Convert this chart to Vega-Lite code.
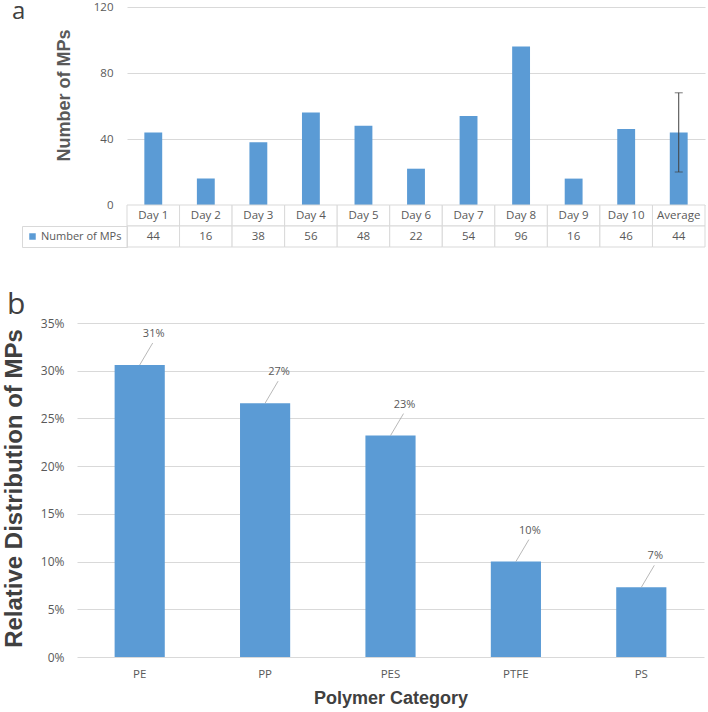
{
  "$schema": "https://vega.github.io/schema/vega-lite/v6.json",
  "padding": {"left": 2, "top": 0, "right": 0, "bottom": 0},
  "config": {"view": {"stroke": null}, "font": "Open Sans"},
  "datasets": {
    "days": [
      {"day": "Day 1", "count": 44},
      {"day": "Day 2", "count": 16},
      {"day": "Day 3", "count": 38},
      {"day": "Day 4", "count": 56},
      {"day": "Day 5", "count": 48},
      {"day": "Day 6", "count": 22},
      {"day": "Day 7", "count": 54},
      {"day": "Day 8", "count": 96},
      {"day": "Day 9", "count": 16},
      {"day": "Day 10", "count": 46},
      {"day": "Average", "count": 44, "err_lo": 20, "err_hi": 68}
    ],
    "poly": [
      {"polymer": "PE", "share": 0.306},
      {"polymer": "PP", "share": 0.266},
      {"polymer": "PES", "share": 0.232},
      {"polymer": "PTFE", "share": 0.100},
      {"polymer": "PS", "share": 0.073}
    ]
  },
  "spacing": 42,
  "vconcat": [
    {
      "spacing": 0,
      "bounds": "flush",
      "resolve": {"scale": {"color": "independent"}, "legend": {"color": "independent"}},
      "vconcat": [
        {
          "width": 628,
          "height": 198,
          "data": {"name": "days"},
          "title": {"text": "a", "anchor": "start", "frame": "group", "fontSize": 24, "font": "Open Sans", "fontWeight": "normal", "color": "#404040", "baseline": "alphabetic", "offset": -42, "dx": -65},
          "encoding": {
            "x": {"field": "day", "type": "nominal", "sort": null, "scale": {"range": [50, 628], "paddingInner": 0.66, "paddingOuter": 0.33}, "axis": null}
          },
          "layer": [
            {
              "mark": {"type": "bar", "color": "#5b9bd5"},
              "encoding": {
                "y": {"field": "count", "type": "quantitative", "scale": {"domain": [0, 120]},
                  "axis": {"values": [0, 20, 40, 60, 80, 100, 120], "labelOverlap": false, "grid": true, "gridColor": "#d9d9d9", "domain": false, "ticks": false,
                    "offset": -50,
                    "labelPadding": 14, "labelFont": "Open Sans", "labelFontSize": 11.5, "labelColor": "#595959",
                    "title": "Number of MPs", "titleFont": "Liberation Sans", "titleFontSize": 18, "titleFontWeight": "bold", "titleColor": "#595959",
                    "titleX": -58, "titleY": 88, "titleBaseline": "alphabetic", "titleAngle": -90}}
              }
            },
            {
              "transform": [{"filter": "isValid(datum.err_lo)"}],
              "mark": {"type": "rule", "color": "#404040", "strokeWidth": 1},
              "encoding": {"y": {"field": "err_lo", "type": "quantitative"}, "y2": {"field": "err_hi"}}
            },
            {
              "transform": [{"filter": "isValid(datum.err_lo)"}],
              "mark": {"type": "tick", "color": "#404040", "size": 8, "thickness": 1},
              "encoding": {"y": {"field": "err_lo", "type": "quantitative"}}
            },
            {
              "transform": [{"filter": "isValid(datum.err_hi)"}],
              "mark": {"type": "tick", "color": "#404040", "size": 8, "thickness": 1},
              "encoding": {"y": {"field": "err_hi", "type": "quantitative"}}
            }
          ]
        },
        {
          "width": 628,
          "height": 42,
          "data": {"name": "days"},
          "encoding": {
            "x": {"field": "day", "type": "nominal", "sort": null, "scale": {"range": [50, 628], "paddingInner": 0, "paddingOuter": 0}, "axis": null}
          },
          "layer": [
            {
              "mark": {"type": "rect", "fill": "white", "stroke": "#d9d9d9", "strokeWidth": 1},
              "encoding": {"y": {"datum": "head", "type": "nominal", "scale": {"domain": ["head", "val"], "paddingInner": 0, "paddingOuter": 0}, "axis": null}}
            },
            {
              "mark": {"type": "rect", "fill": "white", "stroke": "#d9d9d9", "strokeWidth": 1},
              "encoding": {"y": {"datum": "val", "type": "nominal"}}
            },
            {
              "mark": {"type": "text", "font": "Open Sans", "fontSize": 11.5, "color": "#595959"},
              "encoding": {"y": {"datum": "head", "type": "nominal"}, "text": {"field": "day"}}
            },
            {
              "mark": {"type": "text", "font": "Open Sans", "fontSize": 11.5, "color": "#595959"},
              "encoding": {"y": {"datum": "val", "type": "nominal"}, "text": {"field": "count"}}
            },
            {
              "mark": {"type": "point", "opacity": 0, "filled": true},
              "encoding": {
                "y": {"datum": "val", "type": "nominal"},
                "color": {"datum": "Number of MPs", "type": "nominal", "scale": {"range": ["#5b9bd5"]},
                  "legend": {"orient": "none", "legendX": -55, "legendY": 21, "title": null, "strokeColor": "#d9d9d9", "padding": 5,
                    "symbolType": "square", "symbolSize": 42, "symbolOpacity": 1, "symbolStrokeWidth": 0, "symbolFillColor": "#5b9bd5",
                    "labelFont": "Open Sans", "labelFontSize": 11, "labelColor": "#595959", "labelOffset": 3}}
              }
            }
          ]
        }
      ]
    },
    {
      "width": 627,
      "height": 334,
      "data": {"name": "poly"},
      "title": {"text": "b", "anchor": "start", "frame": "group", "fontSize": 30, "font": "Open Sans", "fontWeight": "normal", "color": "#404040", "baseline": "alphabetic", "offset": -27, "dx": -70},
      "encoding": {
        "x": {"field": "polymer", "type": "nominal", "sort": null, "scale": {"paddingInner": 0.6, "paddingOuter": 0.3},
          "axis": {"labelAngle": 0, "domain": false, "ticks": false, "labelPadding": 11, "labelFont": "Open Sans", "labelFontSize": 11.5, "labelColor": "#595959",
            "title": "Polymer Category", "titleFont": "Liberation Sans", "titleFontSize": 18, "titleFontWeight": "bold", "titleColor": "#404040", "titlePadding": 10}},
        "y": {"field": "share", "type": "quantitative", "scale": {"domain": [0, 0.35]},
          "axis": {"values": [0, 0.05, 0.1, 0.15, 0.2, 0.25, 0.3, 0.35], "labelOverlap": false, "format": ".0%", "grid": true, "gridColor": "#d9d9d9", "domain": false, "ticks": false,
            "labelPadding": 13, "labelFont": "Open Sans", "labelFontSize": 12, "labelColor": "#595959",
            "title": "Relative Distribution of MPs", "titleFont": "Liberation Sans", "titleFontSize": 24, "titleFontWeight": "bold", "titleColor": "#404040",
            "titleX": -56, "titleY": 165, "titleBaseline": "alphabetic", "titleAngle": -90}}
      },
      "layer": [
        {"mark": {"type": "bar", "color": "#5b9bd5"}},
        {
          "mark": {"type": "rule", "color": "#a6a6a6", "strokeWidth": 0.8, "x2Offset": 13, "y2Offset": -22},
          "encoding": {"x2": {"field": "polymer"}, "y2": {"field": "share"}}
        },
        {
          "mark": {"type": "text", "font": "Open Sans", "fontSize": 11, "color": "#595959", "dx": 14, "dy": -31},
          "encoding": {"text": {"field": "share", "type": "quantitative", "format": ".0%"}}
        }
      ]
    }
  ]
}
